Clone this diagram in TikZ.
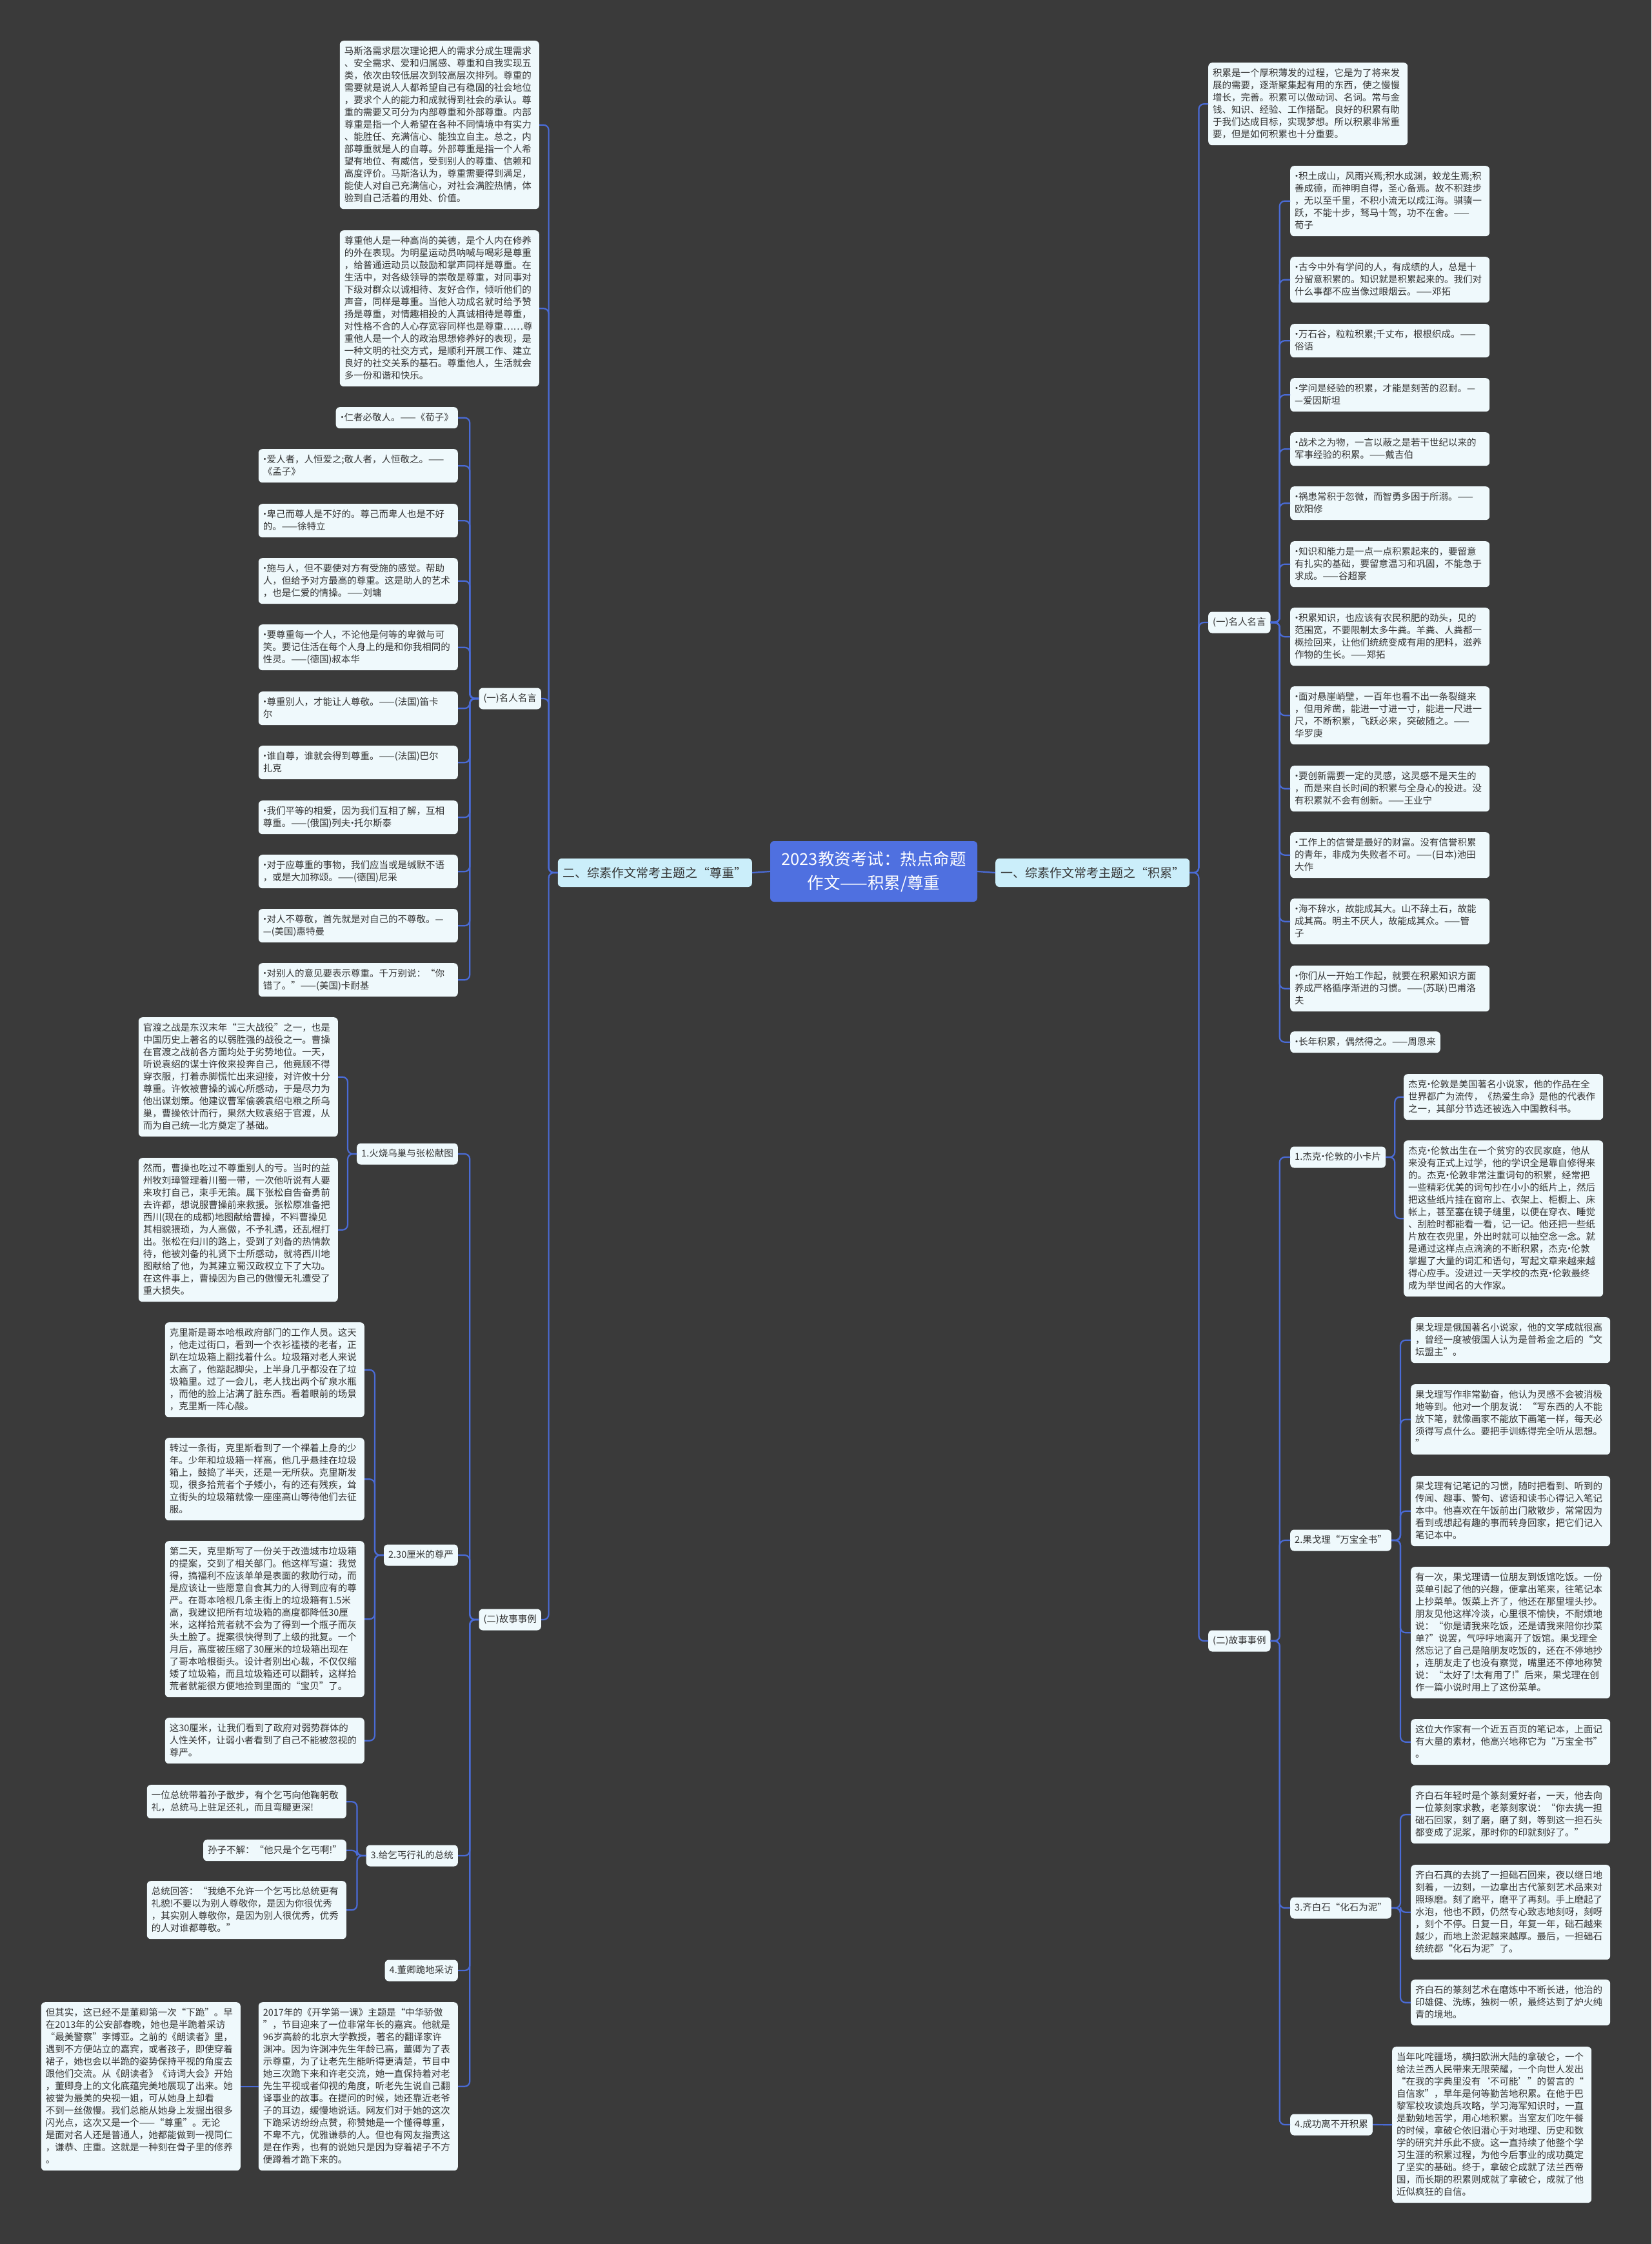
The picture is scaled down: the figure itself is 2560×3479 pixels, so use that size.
\documentclass[tikz,border=0pt]{standalone}
\usepackage{fontspec}
\setmainfont{Noto Sans CJK SC}
\definecolor{bgc}{HTML}{3A3A3A}
\definecolor{boxc}{HTML}{EFF9FC}
\definecolor{txt}{HTML}{333333}
\definecolor{lvc}{HTML}{CBEEFA}
\definecolor{ctrc}{HTML}{4F70E0}
\definecolor{linec}{HTML}{4A6BD6}
\newcommand\bxfont{\fontsize{14.5pt}{19pt}\selectfont}
\newcommand\bxstrut{\rule[-5pt]{0pt}{19pt}}
\newcommand\dt{\makebox[0.4em][c]{·}}
\tikzset{
  bxbase/.style={rectangle, rounded corners=6pt, fill=boxc, text=txt, font=\bxfont,
    inner xsep=7pt, inner ysep=7pt, align=left,
    execute at begin node=\bxstrut, execute at end node=\bxstrut},
  bx/.style={bxbase, text width=295pt},
  bxn/.style={bxbase},
  lvone/.style={rectangle, rounded corners=6pt, fill=lvc, text=txt,
    font=\fontsize{19pt}{22pt}\selectfont, minimum height=44pt, minimum width=301pt, inner xsep=8pt},
  ctr/.style={rectangle, rounded corners=6pt, fill=ctrc, text=white, align=center,
    font=\fontsize{25.5pt}{37pt}\selectfont, minimum height=94pt, minimum width=321pt},
  conn/.style={draw=linec, line width=2.2pt, rounded corners=8pt},
}
\begin{document}
\begin{tikzpicture}[x=1pt,y=-1pt]
\fill[bgc] (0,0) rectangle (2560,3479);
\useasboundingbox (0,0) rectangle (2560,3479);

% central and level one
\node[ctr] (C) at (1354.5,1351) {2023教资考试：热点命题\\作文——积累/尊重};
\node[lvone, anchor=east] (L) at (1166,1353) {二、综素作文常考主题之“尊重”};
\node[lvone, anchor=west] (R) at (1543,1353) {一、综素作文常考主题之“积累”};

% ---------------- LEFT ----------------
\node[bx, anchor=north east] (lm1) at (836,63) {马斯洛需求层次理论把人的需求分成生理需求\\、安全需求、爱和归属感、尊重和自我实现五\\类，依次由较低层次到较高层次排列。尊重的\\需要就是说人人都希望自己有稳固的社会地位\\，要求个人的能力和成就得到社会的承认。尊\\重的需要又可分为内部尊重和外部尊重。内部\\尊重是指一个人希望在各种不同情境中有实力\\、能胜任、充满信心、能独立自主。总之，内\\部尊重就是人的自尊。外部尊重是指一个人希\\望有地位、有威信，受到别人的尊重、信赖和\\高度评价。马斯洛认为，尊重需要得到满足，\\能使人对自己充满信心，对社会满腔热情，体\\验到自己活着的用处、价值。};
\node[bx, anchor=north east] (lm2) at (836,357) {尊重他人是一种高尚的美德，是个人内在修养\\的外在表现。为明星运动员呐喊与喝彩是尊重\\，给普通运动员以鼓励和掌声同样是尊重。在\\生活中，对各级领导的崇敬是尊重，对同事对\\下级对群众以诚相待、友好合作，倾听他们的\\声音，同样是尊重。当他人功成名就时给予赞\\扬是尊重，对情趣相投的人真诚相待是尊重，\\对性格不合的人心存宽容同样也是尊重……尊\\重他人是一个人的政治思想修养好的表现，是\\一种文明的社交方式，是顺利开展工作、建立\\良好的社交关系的基石。尊重他人，生活就会\\多一份和谐和快乐。};

\node[bxn, anchor=east] (lq) at (839,1083) {(一)名人名言};
\node[bxn, anchor=north east] (lq1) at (710,631) {\dt 仁者必敬人。——《荀子》};
\node[bx, anchor=north east] (lq2) at (710,696) {\dt 爱人者，人恒爱之;敬人者，人恒敬之。——\\《孟子》};
\node[bx, anchor=north east] (lq3) at (710,781) {\dt 卑己而尊人是不好的。尊己而卑人也是不好\\的。——徐特立};
\node[bx, anchor=north east] (lq4) at (710,865) {\dt 施与人，但不要使对方有受施的感觉。帮助\\人，但给予对方最高的尊重。这是助人的艺术\\，也是仁爱的情操。——刘墉};
\node[bx, anchor=north east] (lq5) at (710,968) {\dt 要尊重每一个人，不论他是何等的卑微与可\\笑。要记住活在每个人身上的是和你我相同的\\性灵。——(德国)叔本华};
\node[bx, anchor=north east] (lq6) at (710,1072) {\dt 尊重别人，才能让人尊敬。——(法国)笛卡\\尔};
\node[bx, anchor=north east] (lq7) at (710,1156) {\dt 谁自尊，谁就会得到尊重。——(法国)巴尔\\扎克};
\node[bx, anchor=north east] (lq8) at (710,1241) {\dt 我们平等的相爱，因为我们互相了解，互相\\尊重。——(俄国)列夫\dt 托尔斯泰};
\node[bx, anchor=north east] (lq9) at (710,1325) {\dt 对于应尊重的事物，我们应当或是缄默不语\\，或是大加称颂。——(德国)尼采};
\node[bx, anchor=north east] (lq10) at (710,1409) {\dt 对人不尊敬，首先就是对自己的不尊敬。—\\—(美国)惠特曼};
\node[bx, anchor=north east] (lq11) at (710,1493) {\dt 对别人的意见要表示尊重。千万别说：“你\\错了。”——(美国)卡耐基};

\node[bxn, anchor=east] (ls) at (839,2511) {(二)故事事例};
\node[bxn, anchor=east] (ls1) at (710,1789) {1.火烧乌巢与张松献图};
\node[bx, anchor=north east] (ls1a) at (524,1577) {官渡之战是东汉末年“三大战役”之一，也是\\中国历史上著名的以弱胜强的战役之一。曹操\\在官渡之战前各方面均处于劣势地位。一天，\\听说袁绍的谋士许攸来投奔自己，他竟顾不得\\穿衣服，打着赤脚慌忙出来迎接，对许攸十分\\尊重。许攸被曹操的诚心所感动，于是尽力为\\他出谋划策。他建议曹军偷袭袁绍屯粮之所乌\\巢，曹操依计而行，果然大败袁绍于官渡，从\\而为自己统一北方奠定了基础。};
\node[bx, anchor=north east] (ls1b) at (524,1795) {然而，曹操也吃过不尊重别人的亏。当时的益\\州牧刘璋管理着川蜀一带，一次他听说有人要\\来攻打自己，束手无策。属下张松自告奋勇前\\去许都，想说服曹操前来救援。张松原准备把\\西川(现在的成都)地图献给曹操，不料曹操见\\其相貌猥琐，为人高傲，不予礼遇，还乱棍打\\出。张松在归川的路上，受到了刘备的热情款\\待，他被刘备的礼贤下士所感动，就将西川地\\图献给了他，为其建立蜀汉政权立下了大功。\\在这件事上，曹操因为自己的傲慢无礼遭受了\\重大损失。};

\node[bxn, anchor=east] (ls2) at (710,2411) {2.30厘米的尊严};
\node[bx, anchor=north east] (ls2a) at (565,2050) {克里斯是哥本哈根政府部门的工作人员。这天\\，他走过街口，看到一个衣衫褴褛的老者，正\\趴在垃圾箱上翻找着什么。垃圾箱对老人来说\\太高了，他踮起脚尖，上半身几乎都没在了垃\\圾箱里。过了一会儿，老人找出两个矿泉水瓶\\，而他的脸上沾满了脏东西。看着眼前的场景\\，克里斯一阵心酸。};
\node[bx, anchor=north east] (ls2b) at (565,2229) {转过一条街，克里斯看到了一个裸着上身的少\\年。少年和垃圾箱一样高，他几乎悬挂在垃圾\\箱上，鼓捣了半天，还是一无所获。克里斯发\\现，很多拾荒者个子矮小，有的还有残疾，耸\\立街头的垃圾箱就像一座座高山等待他们去征\\服。};
\node[bx, anchor=north east] (ls2c) at (565,2389) {第二天，克里斯写了一份关于改造城市垃圾箱\\的提案，交到了相关部门。他这样写道：我觉\\得，搞福利不应该单单是表面的救助行动，而\\是应该让一些愿意自食其力的人得到应有的尊\\严。在哥本哈根几条主街上的垃圾箱有1.5米\\高，我建议把所有垃圾箱的高度都降低30厘\\米，这样拾荒者就不会为了得到一个瓶子而灰\\头土脸了。提案很快得到了上级的批复。一个\\月后，高度被压缩了30厘米的垃圾箱出现在\\了哥本哈根街头。设计者别出心裁，不仅仅缩\\矮了垃圾箱，而且垃圾箱还可以翻转，这样拾\\荒者就能很方便地捡到里面的“宝贝”了。};
\node[bx, anchor=north east] (ls2d) at (565,2663) {这30厘米，让我们看到了政府对弱势群体的\\人性关怀，让弱小者看到了自己不能被忽视的\\尊严。};

\node[bxn, anchor=east] (ls3) at (710,2877) {3.给乞丐行礼的总统};
\node[bx, anchor=north east] (ls3a) at (537,2767) {一位总统带着孙子散步，有个乞丐向他鞠躬敬\\礼，总统马上驻足还礼，而且弯腰更深!};
\node[bxn, anchor=north east] (ls3b) at (537,2852) {孙子不解：“他只是个乞丐啊!”};
\node[bx, anchor=north east] (ls3c) at (537,2916) {总统回答：“我绝不允许一个乞丐比总统更有\\礼貌!不要以为别人尊敬你，是因为你很优秀\\，其实别人尊敬你，是因为别人很优秀，优秀\\的人对谁都尊敬。”};

\node[bxn, anchor=east] (ls4) at (710,3055) {4.董卿跪地采访};
\node[bx, anchor=north east] (ls5) at (710,3104) {2017年的《开学第一课》主题是“中华骄傲\\”，节目迎来了一位非常年长的嘉宾。他就是\\96岁高龄的北京大学教授，著名的翻译家许\\渊冲。因为许渊冲先生年龄已高，董卿为了表\\示尊重，为了让老先生能听得更清楚，节目中\\她三次跪下来和许老交流，她一直保持着对老\\先生平视或者仰视的角度，听老先生说自己翻\\译事业的故事。在提问的时候，她还靠近老爷\\子的耳边，缓慢地说话。网友们对于她的这次\\下跪采访纷纷点赞，称赞她是一个懂得尊重，\\不卑不亢，优雅谦恭的人。但也有网友指责这\\是在作秀，也有的说她只是因为穿着裙子不方\\便蹲着才跪下来的。};
\node[bx, anchor=north east] (ls6) at (373,3104) {但其实，这已经不是董卿第一次“下跪”。早\\在2013年的公安部春晚，她也是半跪着采访\\“最美警察”李博亚。之前的《朗读者》里，\\遇到不方便站立的嘉宾，或者孩子，即使穿着\\裙子，她也会以半跪的姿势保持平视的角度去\\跟他们交流。从《朗读者》《诗词大会》开始\\，董卿身上的文化底蕴完美地展现了出来。她\\被誉为最美的央视一姐，可从她身上却看\\不到一丝傲慢。我们总能从她身上发掘出很多\\闪光点，这次又是一个——“尊重”。无论\\是面对名人还是普通人，她都能做到一视同仁\\，谦恭、庄重。这就是一种刻在骨子里的修养\\。};

% ---------------- RIGHT ----------------
\node[bx, anchor=north west] (rm1) at (1873,97) {积累是一个厚积薄发的过程，它是为了将来发\\展的需要，逐渐聚集起有用的东西，使之慢慢\\增长，完善。积累可以做动词、名词。常与金\\钱、知识、经验、工作搭配。良好的积累有助\\于我们达成目标，实现梦想。所以积累非常重\\要，但是如何积累也十分重要。};

\node[bxn, anchor=west] (rq) at (1873,965) {(一)名人名言};
\node[bx, anchor=north west] (rq1) at (2000,257) {\dt 积土成山，风雨兴焉;积水成渊，蛟龙生焉;积\\善成德，而神明自得，圣心备焉。故不积跬步\\，无以至千里，不积小流无以成江海。骐骥一\\跃，不能十步，驽马十驾，功不在舍。——\\荀子};
\node[bx, anchor=north west] (rq2) at (2000,398) {\dt 古今中外有学问的人，有成绩的人，总是十\\分留意积累的。知识就是积累起来的。我们对\\什么事都不应当像过眼烟云。——邓拓};
\node[bx, anchor=north west] (rq3) at (2000,502) {\dt 万石谷，粒粒积累;千丈布，根根织成。——\\俗语};
\node[bx, anchor=north west] (rq4) at (2000,586) {\dt 学问是经验的积累，才能是刻苦的忍耐。—\\—爱因斯坦};
\node[bx, anchor=north west] (rq5) at (2000,670) {\dt 战术之为物，一言以蔽之是若干世纪以来的\\军事经验的积累。——戴吉伯};
\node[bx, anchor=north west] (rq6) at (2000,754) {\dt 祸患常积于忽微，而智勇多困于所溺。——\\欧阳修};
\node[bx, anchor=north west] (rq7) at (2000,839) {\dt 知识和能力是一点一点积累起来的，要留意\\有扎实的基础，要留意温习和巩固，不能急于\\求成。——谷超豪};
\node[bx, anchor=north west] (rq8) at (2000,942) {\dt 积累知识，也应该有农民积肥的劲头，见的\\范围宽，不要限制太多牛粪。羊粪、人粪都一\\概捡回来，让他们统统变成有用的肥料，滋养\\作物的生长。——郑拓};
\node[bx, anchor=north west] (rq9) at (2000,1064) {\dt 面对悬崖峭壁，一百年也看不出一条裂缝来\\，但用斧凿，能进一寸进一寸，能进一尺进一\\尺，不断积累，飞跃必来，突破随之。——\\华罗庚};
\node[bx, anchor=north west] (rq10) at (2000,1187) {\dt 要创新需要一定的灵感，这灵感不是天生的\\，而是来自长时间的积累与全身心的投进。没\\有积累就不会有创新。——王业宁};
\node[bx, anchor=north west] (rq11) at (2000,1290) {\dt 工作上的信誉是最好的财富。没有信誉积累\\的青年，非成为失败者不可。——(日本)池田\\大作};
\node[bx, anchor=north west] (rq12) at (2000,1393) {\dt 海不辞水，故能成其大。山不辞土石，故能\\成其高。明主不厌人，故能成其众。——管\\子};
\node[bx, anchor=north west] (rq13) at (2000,1497) {\dt 你们从一开始工作起，就要在积累知识方面\\养成严格循序渐进的习惯。——(苏联)巴甫洛\\夫};
\node[bxn, anchor=north west] (rq14) at (2000,1599) {\dt 长年积累，偶然得之。——周恩来};

\node[bxn, anchor=west] (rs) at (1873,2544) {(二)故事事例};
\node[bxn, anchor=west] (rs1) at (2000,1794) {1.杰克\dt 伦敦的小卡片};
\node[bx, anchor=north west] (rs1a) at (2176,1665) {杰克\dt 伦敦是美国著名小说家，他的作品在全\\世界都广为流传，《热爱生命》是他的代表作\\之一，其部分节选还被选入中国教科书。};
\node[bx, anchor=north west] (rs1b) at (2176,1768) {杰克\dt 伦敦出生在一个贫穷的农民家庭，他从\\来没有正式上过学，他的学识全是靠自修得来\\的。杰克\dt 伦敦非常注重词句的积累，经常把\\一些精彩优美的词句抄在小小的纸片上，然后\\把这些纸片挂在窗帘上、衣架上、柜橱上、床\\帐上，甚至塞在镜子缝里，以便在穿衣、睡觉\\、刮脸时都能看一看，记一记。他还把一些纸\\片放在衣兜里，外出时就可以抽空念一念。就\\是通过这样点点滴滴的不断积累，杰克\dt 伦敦\\掌握了大量的词汇和语句，写起文章来越来越\\得心应手。没进过一天学校的杰克\dt 伦敦最终\\成为举世闻名的大作家。};

\node[bxn, anchor=west] (rs2) at (2000,2388) {2.果戈理“万宝全书”};
\node[bx, anchor=north west] (rs2a) at (2187,2042) {果戈理是俄国著名小说家，他的文学成就很高\\，曾经一度被俄国人认为是普希金之后的“文\\坛盟主”。};
\node[bx, anchor=north west] (rs2b) at (2187,2146) {果戈理写作非常勤奋，他认为灵感不会被消极\\地等到。他对一个朋友说：“写东西的人不能\\放下笔，就像画家不能放下画笔一样，每天必\\须得写点什么。要把手训练得完全听从思想。\\”};
\node[bx, anchor=north west] (rs2c) at (2187,2288) {果戈理有记笔记的习惯，随时把看到、听到的\\传闻、趣事、警句、谚语和读书心得记入笔记\\本中。他喜欢在午饭前出门散散步，常常因为\\看到或想起有趣的事而转身回家，把它们记入\\笔记本中。};
\node[bx, anchor=north west] (rs2d) at (2187,2429) {有一次，果戈理请一位朋友到饭馆吃饭。一份\\菜单引起了他的兴趣，便拿出笔来，往笔记本\\上抄菜单。饭菜上齐了，他还在那里埋头抄。\\朋友见他这样冷淡，心里很不愉快，不耐烦地\\说：“你是请我来吃饭，还是请我来陪你抄菜\\单?”说罢，气呼呼地离开了饭馆。果戈理全\\然忘记了自己是陪朋友吃饭的，还在不停地抄\\，连朋友走了也没有察觉，嘴里还不停地称赞\\说：“太好了!太有用了!”后来，果戈理在创\\作一篇小说时用上了这份菜单。};
\node[bx, anchor=north west] (rs2e) at (2187,2665) {这位大作家有一个近五百页的笔记本，上面记\\有大量的素材，他高兴地称它为“万宝全书”\\。};

\node[bxn, anchor=west] (rs3) at (2000,2958) {3.齐白石“化石为泥”};
\node[bx, anchor=north west] (rs3a) at (2187,2768) {齐白石年轻时是个篆刻爱好者，一天，他去向\\一位篆刻家求教，老篆刻家说：“你去挑一担\\础石回家，刻了磨，磨了刻，等到这一担石头\\都变成了泥浆，那时你的印就刻好了。”};
\node[bx, anchor=north west] (rs3b) at (2187,2891) {齐白石真的去挑了一担础石回来，夜以继日地\\刻着，一边刻，一边拿出古代篆刻艺术品来对\\照琢磨。刻了磨平，磨平了再刻。手上磨起了\\水泡，他也不顾，仍然专心致志地刻呀，刻呀\\，刻个不停。日复一日，年复一年，础石越来\\越少，而地上淤泥越来越厚。最后，一担础石\\统统都“化石为泥”了。};
\node[bx, anchor=north west] (rs3c) at (2187,3069) {齐白石的篆刻艺术在磨炼中不断长进，他治的\\印雄健、洗练，独树一帜，最终达到了炉火纯\\青的境地。};

\node[bxn, anchor=west] (rs4) at (2000,3294) {4.成功离不开积累};
\node[bx, anchor=north west] (rs4a) at (2158,3173) {当年叱咤疆场，横扫欧洲大陆的拿破仑，一个\\给法兰西人民带来无限荣耀，一个向世人发出\\“在我的字典里没有‘不可能’”的誓言的“\\自信家”，早年是何等勤苦地积累。在他于巴\\黎军校攻读炮兵攻略，学习海军知识时，一直\\是勤勉地苦学，用心地积累。当室友们吃午餐\\的时候，拿破仑依旧潜心于对地理、历史和数\\学的研究并乐此不疲。这一直持续了他整个学\\习生涯的积累过程，为他今后事业的成功奠定\\了坚实的基础。终于，拿破仑成就了法兰西帝\\国，而长期的积累则成就了拿破仑，成就了他\\近似疯狂的自信。};

% ---------------- CONNECTORS ----------------
\draw[conn] (C.west) -- (L.east);
\draw[conn] (C.east) -- (R.west);
\foreach \c in {lm1,lm2,lq,ls} \draw[conn] (L.west) -- ++(-14,0) |- (\c.east);
\foreach \c in {lq1,lq2,lq3,lq4,lq5,lq6,lq7,lq8,lq9,lq10,lq11} \draw[conn] (lq.west) -- ++(-14,0) |- (\c.east);
\foreach \c in {ls1,ls2,ls3,ls4,ls5} \draw[conn] (ls.west) -- ++(-14,0) |- (\c.east);
\foreach \c in {ls1a,ls1b} \draw[conn] (ls1.west) -- ++(-14,0) |- (\c.east);
\foreach \c in {ls2a,ls2b,ls2c,ls2d} \draw[conn] (ls2.west) -- ++(-14,0) |- (\c.east);
\foreach \c in {ls3a,ls3b,ls3c} \draw[conn] (ls3.west) -- ++(-14,0) |- (\c.east);
\draw[conn] (ls5.west) -- (ls6.east);
\foreach \c in {rm1,rq,rs} \draw[conn] (R.east) -- ++(14,0) |- (\c.west);
\foreach \c in {rq1,rq2,rq3,rq4,rq5,rq6,rq7,rq8,rq9,rq10,rq11,rq12,rq13,rq14} \draw[conn] (rq.east) -- ++(14,0) |- (\c.west);
\foreach \c in {rs1,rs2,rs3,rs4} \draw[conn] (rs.east) -- ++(14,0) |- (\c.west);
\foreach \c in {rs1a,rs1b} \draw[conn] (rs1.east) -- ++(14,0) |- (\c.west);
\foreach \c in {rs2a,rs2b,rs2c,rs2d,rs2e} \draw[conn] (rs2.east) -- ++(14,0) |- (\c.west);
\foreach \c in {rs3a,rs3b,rs3c} \draw[conn] (rs3.east) -- ++(14,0) |- (\c.west);
\draw[conn] (rs4.east) -- (rs4a.west);
\end{tikzpicture}
\end{document}
